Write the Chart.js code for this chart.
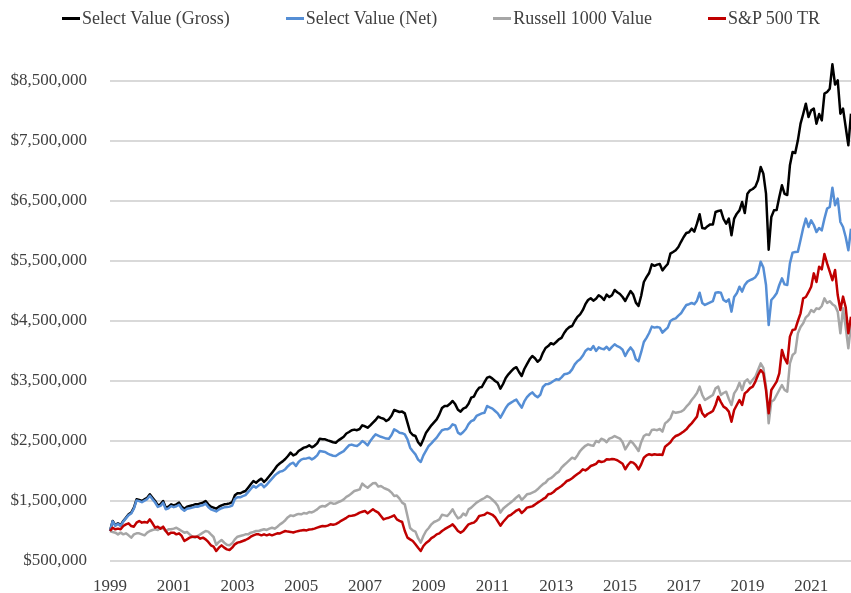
<!DOCTYPE html>
<html lang="en">
  <head>
    <meta charset="UTF-8" />
    <title>Select Value - growth of $1,000,000</title>
    <style>
      body {
        margin: 0;
        background: #fff;
      }
      #wrap {
        position: relative;
        width: 851px;
        height: 593px;
      }
      #legend {
        position: absolute;
        top: 8px;
        left: 62px;
        display: flex;
        gap: 56px;
        font: 18px "Liberation Serif", "Times New Roman", serif;
        line-height: 20px;
        color: #404040;
      }
      .item {
        display: flex;
        align-items: center;
        white-space: nowrap;
      }
      .swatch {
        width: 18px;
        height: 3px;
        margin-right: 2px;
      }
    </style>
  </head>
  <body>
    <div id="wrap">
      <div id="legend"></div>
      <canvas id="chart" width="851" height="593"></canvas>
    </div>
    <script src="https://cdn.jsdelivr.net/npm/chart.js"></script>
    <script>
      // monthly values in $ thousands, Jan 1999 onwards
      const startYear = 1999;
      const yearTicks = ["1999", "2001", "2003", "2005", "2007", "2009", "2011", "2013", "2015", "2017", "2019", "2021"];
      const yTicks = [500, 1500, 2500, 3500, 4500, 5500, 6500, 7500, 8500];

      const gross = [
        1000,1167,1094,1128,1094,1167,1222,1278,1306,1389,1528,1517,
        1500,1528,1555,1611,1555,1500,1428,1444,1500,1389,1405,1444,
        1428,1444,1472,1405,1372,1405,1417,1428,1444,1444,1461,1472,
        1500,1444,1405,1389,1372,1405,1428,1444,1450,1461,1480,1594,
        1628,1628,1650,1667,1722,1778,1833,1805,1844,1872,1817,1861,
        1917,1972,2028,2090,2130,2160,2200,2250,2306,2260,2280,2333,
        2360,2389,2400,2428,2395,2420,2460,2539,2530,2528,2510,2495,
        2480,2472,2510,2540,2570,2625,2650,2680,2690,2680,2700,2761,
        2745,2722,2760,2806,2850,2906,2885,2872,2833,2861,2920,3017,
        3000,2983,2990,2961,2806,2650,2600,2583,2480,2428,2528,2639,
        2700,2761,2810,2861,2944,3050,3083,3083,3120,3167,3111,3020,
        2990,3040,3060,3120,3222,3240,3330,3389,3400,3480,3556,3570,
        3540,3500,3470,3372,3450,3550,3611,3660,3706,3730,3650,3583,
        3700,3780,3861,3917,3880,3820,3860,3970,4050,4083,4130,4110,
        4150,4194,4220,4300,4361,4400,4417,4500,4570,4611,4680,4780,
        4850,4880,4840,4870,4930,4900,4850,4940,4900,4930,5017,4980,
        4950,4900,4833,4920,5000,4940,4806,4750,4920,5150,5230,5300,
        5444,5420,5440,5450,5344,5400,5450,5622,5650,5680,5733,5820,
        5900,5967,5980,6039,5990,6122,6278,6050,6039,6080,6110,6110,
        6317,6333,6344,6200,6122,6206,5928,6206,6289,6344,6483,6300,
        6622,6678,6700,6740,6850,7067,6956,6622,5689,6233,6344,6350,
        6567,6761,6620,6600,7094,7317,7300,7511,7789,7950,8122,7900,
        8011,8040,7789,7950,7844,8289,8317,8372,8778,8440,8511,7956,
        8040,7733,7428,7956
      ];
      const net = [
        1000,1160,1088,1120,1085,1157,1210,1265,1292,1373,1510,1498,
        1480,1507,1532,1587,1530,1475,1402,1418,1472,1362,1377,1414,
        1397,1412,1438,1372,1338,1370,1380,1390,1405,1404,1420,1430,
        1456,1400,1361,1344,1327,1358,1380,1394,1398,1406,1423,1532,
        1563,1562,1582,1597,1648,1700,1752,1723,1759,1784,1730,1771,
        1822,1873,1924,1960,1990,2000,2030,2080,2120,2139,2083,2150,
        2190,2206,2210,2222,2194,2220,2260,2333,2325,2317,2290,2270,
        2255,2250,2280,2306,2330,2380,2428,2440,2425,2417,2450,2500,
        2470,2428,2500,2560,2611,2590,2570,2556,2540,2539,2600,2694,
        2670,2639,2630,2611,2528,2389,2330,2278,2190,2150,2261,2340,
        2417,2460,2510,2556,2620,2680,2694,2694,2720,2778,2760,2640,
        2611,2650,2700,2780,2830,2850,2917,2940,2960,2972,3083,3060,
        3040,3000,2960,2889,2970,3050,3111,3140,3167,3190,3120,3056,
        3160,3230,3278,3310,3260,3230,3270,3400,3444,3450,3470,3500,
        3528,3520,3560,3611,3620,3640,3694,3778,3830,3861,3920,4000,
        4039,4020,4083,4000,4060,4040,4030,4070,4020,4070,4111,4080,
        4060,4020,3917,4000,4060,4000,3861,3830,3980,4150,4220,4300,
        4406,4390,4400,4390,4306,4350,4390,4500,4530,4544,4590,4628,
        4700,4767,4780,4800,4780,4839,4972,4800,4767,4790,4810,4830,
        4972,4980,4972,4850,4822,4860,4656,4900,4961,5072,4990,5100,
        5156,5180,5200,5230,5300,5489,5390,5100,4433,4850,4900,4961,
        5100,5211,5110,5100,5461,5639,5650,5656,5850,6050,6206,6067,
        6178,6100,5983,6050,6011,6206,6372,6400,6722,6428,6539,6150,
        6067,5900,5678,6039
      ];
      const russell = [
        1000,983,972,944,972,944,961,928,889,944,961,961,
        944,928,972,1000,1017,1028,1017,1055,1039,1000,1028,1028,
        1039,1055,1028,1000,972,983,944,905,889,917,944,972,
        1000,990,944,900,770,817,850,806,772,761,794,861,
        905,917,928,944,944,972,983,1000,1000,1017,1028,1017,
        1039,1055,1039,1072,1110,1140,1180,1230,1260,1250,1270,1285,
        1278,1300,1290,1317,1310,1333,1361,1400,1417,1410,1440,1472,
        1455,1460,1483,1500,1528,1570,1594,1630,1667,1680,1694,1790,
        1750,1720,1760,1794,1800,1740,1750,1720,1700,1680,1640,1583,
        1590,1540,1472,1444,1250,1050,1010,990,880,806,917,1000,
        1050,1111,1150,1170,1194,1270,1260,1250,1300,1361,1278,1210,
        1230,1290,1260,1360,1389,1430,1472,1500,1528,1550,1583,1560,
        1520,1480,1420,1306,1370,1410,1444,1480,1517,1560,1594,1517,
        1560,1611,1620,1640,1660,1694,1740,1780,1806,1860,1880,1917,
        1960,1990,2056,2100,2139,2180,2222,2200,2260,2333,2380,2420,
        2444,2430,2420,2500,2480,2539,2520,2480,2540,2556,2583,2560,
        2540,2480,2361,2430,2500,2460,2400,2333,2480,2583,2610,2600,
        2683,2690,2680,2700,2656,2794,2830,2878,2989,2970,2980,2990,
        3017,3072,3117,3183,3239,3300,3406,3267,3183,3211,3240,3267,
        3378,3406,3267,3300,3322,3200,3100,3294,3361,3472,3350,3489,
        3528,3461,3520,3572,3683,3794,3720,3406,2794,3156,3183,3267,
        3350,3433,3350,3322,3794,3933,3972,4294,4400,4461,4561,4600,
        4683,4650,4711,4700,4750,4878,4800,4830,4780,4750,4656,4294,
        4711,4400,4044,4433
      ];
      const sp500 = [
        1000,1055,1028,1039,1028,1083,1111,1128,1083,1072,1139,1167,
        1139,1150,1139,1194,1128,1055,1072,1039,1072,1000,944,972,
        972,944,961,917,833,861,889,905,905,905,872,889,
        861,817,761,739,667,722,761,722,694,683,722,778,
        806,817,833,850,872,905,928,944,944,928,944,928,
        944,928,944,961,960,980,1000,990,985,975,990,1000,
        1010,1017,1010,1025,1028,1040,1056,1070,1083,1080,1090,1111,
        1105,1115,1139,1170,1194,1220,1250,1255,1261,1280,1306,1320,
        1333,1294,1330,1361,1330,1306,1250,1194,1210,1222,1240,1261,
        1194,1170,1150,1000,889,860,833,778,720,667,750,800,
        833,880,906,944,960,1000,1030,1056,1080,1111,1060,1000,
        972,1000,1056,1111,1128,1140,1180,1250,1260,1270,1306,1290,
        1270,1230,1160,1089,1150,1200,1250,1270,1306,1340,1361,1300,
        1340,1389,1400,1410,1440,1472,1500,1530,1556,1611,1620,1650,
        1694,1720,1750,1790,1833,1850,1880,1917,1950,1980,2028,2010,
        2040,2083,2100,2120,2167,2150,2160,2194,2190,2200,2194,2180,
        2150,2120,2028,2100,2150,2140,2100,2028,2110,2222,2260,2280,
        2267,2280,2270,2275,2267,2406,2440,2480,2544,2583,2600,2628,
        2660,2694,2750,2794,2850,2906,3100,2961,2906,2950,2972,3000,
        3100,3239,3150,3072,3044,2990,2822,3017,3100,3183,3100,3294,
        3330,3380,3406,3489,3600,3683,3628,3350,2961,3350,3420,3489,
        3628,4017,3878,3794,4239,4350,4361,4500,4628,4878,4900,4980,
        5072,5294,5150,5406,5360,5617,5460,5322,5180,5350,4933,4683,
        4906,4730,4294,4572
      ];

      const labels = gross.map((_, i) => `${startYear + Math.floor(i / 12)}-${String((i % 12) + 1).padStart(2, "0")}`);
      const serif = "'Liberation Serif', 'Times New Roman', serif";

      const line = (label, data, color, order) => ({
        label,
        data,
        borderColor: color,
        backgroundColor: color,
        borderWidth: 2.5,
        borderJoinStyle: "round",
        pointRadius: 0,
        tension: 0,
        order,
      });

      const chart = new Chart(document.getElementById("chart"), {
        type: "line",
        data: {
          labels: labels,
          datasets: [
            line("Select Value (Gross)", gross, "#000000", 4),
            line("Select Value (Net)", net, "#558ED5", 3),
            line("Russell 1000 Value", russell, "#A6A6A6", 2),
            line("S&P 500 TR", sp500, "#C00000", 1),
          ],
        },
        options: {
          responsive: false,
          animation: false,
          devicePixelRatio: 1,
          layout: { autoPadding: false, padding: { top: 51, left: 10, right: 0, bottom: 0 } },
          plugins: {
            legend: { display: false },
            tooltip: { enabled: false },
          },
          scales: {
            x: {
              grid: { display: false, drawTicks: false },
              border: { display: false },
              afterFit: (scale) => {
                scale.height = 32;
                scale.paddingLeft = 0;
                scale.paddingRight = 0;
              },
              ticks: {
                autoSkip: false,
                maxRotation: 0,
                minRotation: 0,
                padding: 17,
                color: "#404040",
                font: { family: serif, size: 17, lineHeight: 1 },
                callback: (value, index) => {
                  const year = labels[index].slice(0, 4);
                  return labels[index].endsWith("-01") && yearTicks.includes(year) ? year : "";
                },
              },
            },
            y: {
              min: 500,
              max: 9000,
              afterBuildTicks: (scale) => {
                scale.ticks = yTicks.map((v) => ({ value: v }));
              },
              afterFit: (scale) => {
                scale.width = 100;
              },
              grid: { color: "#D9D9D9", lineWidth: 2, drawTicks: false },
              border: { display: false },
              ticks: {
                padding: 23,
                color: "#404040",
                font: { family: serif, size: 17, lineHeight: 1 },
                callback: (v) => "$" + (v * 1000).toLocaleString("en-US"),
              },
            },
          },
        },
      });

      // legend built from the chart's datasets, line swatch right next to the text
      const legend = document.getElementById("legend");
      chart.data.datasets.forEach((ds) => {
        const item = document.createElement("div");
        item.className = "item";
        const sw = document.createElement("span");
        sw.className = "swatch";
        sw.style.background = ds.borderColor;
        const txt = document.createElement("span");
        txt.textContent = ds.label;
        item.appendChild(sw);
        item.appendChild(txt);
        legend.appendChild(item);
      });
    </script>
  </body>
</html>
